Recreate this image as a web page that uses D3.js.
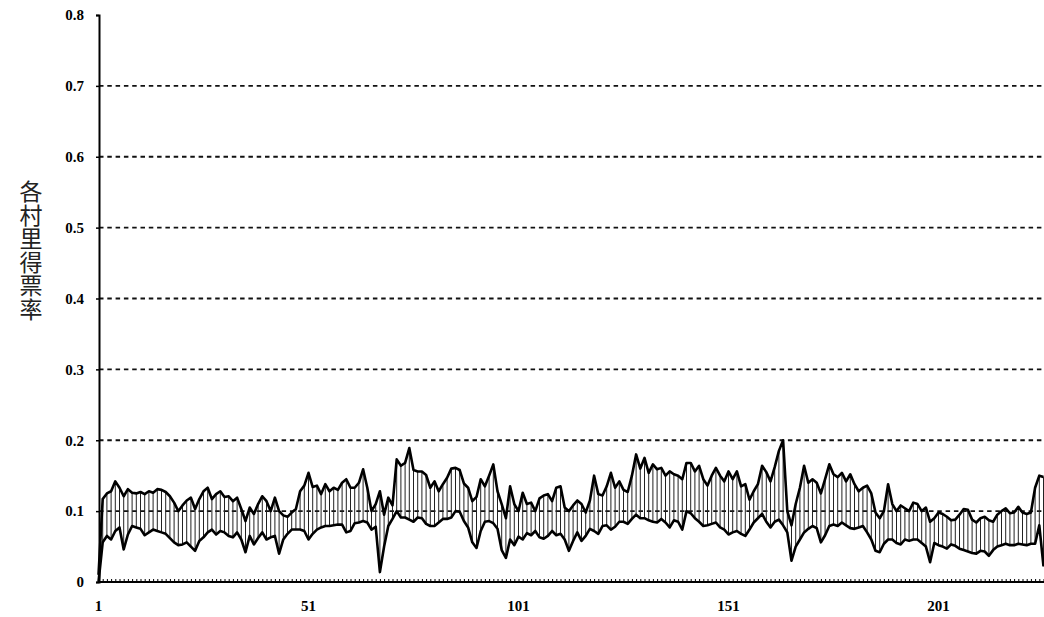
<!DOCTYPE html>
<html><head><meta charset="utf-8">
<script src="https://cdn.jsdelivr.net/npm/d3@7"></script>
<style>html,body{margin:0;padding:0;background:#fff}svg{display:block}</style>
</head><body><div id="chart"></div>
<script>
const yTicks = [0, 0.1, 0.2, 0.3, 0.4, 0.5, 0.6, 0.7, 0.8];
const yTickLabels = ["0", "0.1", "0.2", "0.3", "0.4", "0.5", "0.6", "0.7", "0.8"];
const gridValues = [0.1, 0.2, 0.3, 0.4, 0.5, 0.6, 0.7];
const xTickLabels = [1, 51, 101, 151, 201];
const yTitle = "各村里得票率";
const high = [
0.01,0.117,0.125,0.128,0.142,0.133,0.121,0.131,0.126,0.125,
0.127,0.124,0.128,0.126,0.131,0.13,0.127,0.121,0.112,0.1,
0.108,0.115,0.119,0.103,0.117,0.128,0.133,0.117,0.124,0.128,
0.12,0.121,0.114,0.119,0.103,0.086,0.105,0.096,0.11,0.121,
0.114,0.1,0.119,0.1,0.094,0.092,0.098,0.103,0.128,0.136,
0.154,0.134,0.136,0.124,0.138,0.128,0.133,0.13,0.14,0.145,
0.133,0.133,0.14,0.159,0.133,0.1,0.11,0.128,0.095,0.119,
0.108,0.173,0.164,0.168,0.189,0.158,0.156,0.156,0.151,0.133,
0.142,0.128,0.138,0.147,0.16,0.161,0.158,0.139,0.133,0.114,
0.12,0.145,0.135,0.15,0.166,0.128,0.11,0.09,0.135,0.11,
0.1,0.126,0.11,0.112,0.1,0.118,0.122,0.124,0.114,0.133,
0.135,0.105,0.1,0.108,0.115,0.11,0.098,0.115,0.15,0.124,
0.122,0.135,0.154,0.133,0.142,0.13,0.127,0.15,0.18,0.16,
0.175,0.154,0.166,0.159,0.161,0.15,0.156,0.152,0.15,0.145,
0.168,0.168,0.156,0.164,0.145,0.136,0.15,0.161,0.15,0.142,
0.156,0.145,0.156,0.135,0.138,0.116,0.128,0.138,0.164,0.155,
0.142,0.162,0.185,0.2,0.1,0.08,0.11,0.133,0.164,0.14,
0.145,0.14,0.125,0.145,0.166,0.152,0.148,0.154,0.142,0.152,
0.138,0.128,0.133,0.136,0.125,0.098,0.09,0.1,0.138,0.11,
0.1,0.108,0.104,0.1,0.112,0.11,0.1,0.105,0.085,0.09,
0.098,0.096,0.092,0.087,0.088,0.095,0.103,0.102,0.088,0.084,
0.09,0.092,0.087,0.085,0.095,0.1,0.104,0.097,0.098,0.106,
0.098,0.096,0.098,0.133,0.15,0.148];
const low = [
0,0.056,0.065,0.06,0.072,0.077,0.046,0.067,0.079,0.077,
0.075,0.066,0.07,0.074,0.072,0.07,0.068,0.062,0.056,0.052,
0.053,0.056,0.05,0.044,0.058,0.063,0.07,0.074,0.067,0.072,
0.07,0.065,0.063,0.07,0.06,0.042,0.065,0.053,0.062,0.07,
0.06,0.063,0.065,0.04,0.06,0.068,0.074,0.074,0.074,0.072,
0.06,0.068,0.074,0.077,0.079,0.079,0.08,0.081,0.081,0.07,
0.072,0.083,0.084,0.086,0.084,0.074,0.078,0.014,0.05,0.079,
0.089,0.1,0.091,0.091,0.088,0.085,0.091,0.09,0.082,0.079,
0.079,0.084,0.089,0.089,0.091,0.1,0.099,0.086,0.077,0.056,
0.048,0.072,0.085,0.086,0.083,0.075,0.045,0.034,0.06,0.052,
0.064,0.06,0.069,0.066,0.072,0.063,0.061,0.065,0.072,0.066,
0.068,0.06,0.044,0.058,0.07,0.058,0.065,0.075,0.072,0.068,
0.079,0.08,0.074,0.078,0.085,0.085,0.082,0.089,0.095,0.09,
0.09,0.087,0.085,0.084,0.089,0.084,0.077,0.087,0.085,0.074,
0.1,0.097,0.09,0.085,0.079,0.08,0.082,0.084,0.077,0.074,
0.067,0.07,0.072,0.068,0.065,0.074,0.084,0.09,0.096,0.085,
0.077,0.085,0.088,0.08,0.07,0.03,0.05,0.06,0.07,0.075,
0.079,0.076,0.056,0.066,0.079,0.081,0.079,0.084,0.08,0.076,
0.075,0.077,0.079,0.07,0.06,0.044,0.042,0.054,0.06,0.06,
0.055,0.053,0.06,0.058,0.06,0.06,0.055,0.05,0.028,0.055,
0.052,0.05,0.047,0.053,0.051,0.047,0.045,0.043,0.041,0.04,
0.044,0.043,0.037,0.045,0.05,0.052,0.054,0.052,0.052,0.054,
0.053,0.052,0.054,0.054,0.08,0.022];
const categories = d3.range(1, high.length + 1);

const W = 1044, H = 617;
const svg = d3.select("#chart").append("svg").attr("width", W).attr("height", H);
const x = d3.scaleLinear().domain([1, 226]).range([98.5, 1043.5]);
const y = d3.scaleLinear().domain([0, 0.8]).range([582, 15]);
const left = 99, right = 1044;

// gridlines
svg.append("g").selectAll("line").data(gridValues).join("line")
  .attr("x1", left).attr("x2", right)
  .attr("y1", d => y(d)).attr("y2", d => y(d))
  .attr("stroke", "#111").attr("stroke-width", 1.8)
  .attr("stroke-dasharray", "4.5,3.8");

// hatch (high-low) lines
svg.append("g").selectAll("line").data(categories).join("line")
  .attr("x1", d => x(d)).attr("x2", d => x(d))
  .attr("y1", (d, i) => y(low[i])).attr("y2", (d, i) => y(high[i]))
  .attr("stroke", "#222").attr("stroke-width", 1);

const lineHi = d3.line().x((d, i) => x(categories[i])).y(d => y(d));
svg.append("path").datum(high).attr("d", lineHi)
  .attr("fill", "none").attr("stroke", "#000").attr("stroke-width", 2.6).attr("stroke-linejoin", "round");
svg.append("path").datum(low).attr("d", lineHi)
  .attr("fill", "none").attr("stroke", "#000").attr("stroke-width", 2.6).attr("stroke-linejoin", "round");

// x axis with a tick per category
const xAxis = d3.axisBottom(x).tickValues(categories).tickSize(-3).tickFormat("");
const gx = svg.append("g").attr("transform", `translate(0,${y(0)})`).call(xAxis);
gx.select(".domain").remove();
gx.selectAll(".tick line").attr("stroke", "#000").attr("stroke-width", 1);
svg.append("line").attr("x1", left).attr("x2", right).attr("y1", y(0)).attr("y2", y(0))
  .attr("stroke", "#000").attr("stroke-width", 2);
svg.append("g").selectAll("text").data(xTickLabels).join("text")
  .attr("x", d => x(d)).attr("y", 611)
  .attr("text-anchor", "middle")
  .attr("font-family", "'Liberation Serif', serif").attr("font-weight", "bold").attr("font-size", 15)
  .text(d => d);

// y axis
const yAxis = d3.axisLeft(y).tickValues(yTicks).tickSize(3).tickPadding(12)
  .tickFormat((d, i) => yTickLabels[i]);
const gy = svg.append("g").attr("transform", `translate(${left},0)`).call(yAxis);
gy.select(".domain").attr("stroke", "#000").attr("stroke-width", 2);
gy.selectAll(".tick line").attr("stroke", "#000").attr("stroke-width", 1.5);
gy.selectAll(".tick text").attr("font-family", "'Liberation Serif', serif")
  .attr("font-weight", "bold").attr("font-size", 15).attr("fill", "#000");

// y title, vertical text
svg.append("text")
  .attr("x", 31).attr("y", 180)
  .attr("font-family", "'Noto Sans CJK TC', sans-serif")
  .attr("font-size", 23).attr("fill", "#222")
  .style("writing-mode", "vertical-rl")
  .style("letter-spacing", "0.5px")
  .text(yTitle);
</script></body></html>
